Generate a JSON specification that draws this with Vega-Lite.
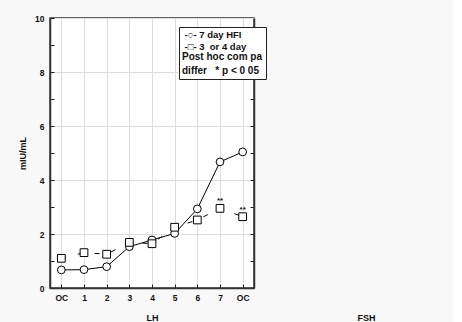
{
  "$schema": "https://vega.github.io/schema/vega-lite/v6.json",
  "background": "#f8f8f8",
  "padding": {"left": 17, "top": 13, "right": 0, "bottom": 0},
  "config": {
    "font": "Liberation Sans",
    "axis": {"labelFont": "Liberation Sans", "labelFontWeight": "bold", "labelFontSize": 8.5, "labelColor": "#111", "titleFont": "Liberation Sans", "titleFontWeight": "bold", "titleFontSize": 9, "titleColor": "#111"},
    "concat": {"spacing": 23}
  },
  "datasets": {
    "hormone": [
      {"day": "OC-pre", "group": "7 day HFI", "value": 0.67, "sig": ""},
      {"day": "1", "group": "7 day HFI", "value": 0.68, "sig": ""},
      {"day": "2", "group": "7 day HFI", "value": 0.79, "sig": ""},
      {"day": "3", "group": "7 day HFI", "value": 1.53, "sig": ""},
      {"day": "4", "group": "7 day HFI", "value": 1.78, "sig": ""},
      {"day": "5", "group": "7 day HFI", "value": 2.02, "sig": ""},
      {"day": "6", "group": "7 day HFI", "value": 2.93, "sig": ""},
      {"day": "7", "group": "7 day HFI", "value": 4.67, "sig": ""},
      {"day": "OC-post", "group": "7 day HFI", "value": 5.04, "sig": ""},
      {"day": "OC-pre", "group": "3 or 4 day", "value": 1.1, "sig": ""},
      {"day": "1", "group": "3 or 4 day", "value": 1.31, "sig": ""},
      {"day": "2", "group": "3 or 4 day", "value": 1.25, "sig": ""},
      {"day": "3", "group": "3 or 4 day", "value": 1.69, "sig": ""},
      {"day": "4", "group": "3 or 4 day", "value": 1.64, "sig": ""},
      {"day": "5", "group": "3 or 4 day", "value": 2.25, "sig": ""},
      {"day": "6", "group": "3 or 4 day", "value": 2.52, "sig": ""},
      {"day": "7", "group": "3 or 4 day", "value": 2.95, "sig": "**"},
      {"day": "OC-post", "group": "3 or 4 day", "value": 2.64, "sig": "**"}
    ]
  },
  "hconcat": [
    {
      "width": 204,
      "height": 270,
      "view": {"fill": "white", "stroke": "#333", "strokeWidth": 1.5},
      "data": {"name": "hormone"},
      "encoding": {
        "x": {
          "field": "day", "type": "ordinal",
          "sort": ["OC-pre", "1", "2", "3", "4", "5", "6", "7", "OC-post"],
          "scale": {"type": "point", "padding": 0.5},
          "axis": {"title": "LH", "labelAngle": 0, "labelExpr": "indexof(datum.label, 'OC') == 0 ? 'OC' : datum.label", "tickSize": -4, "tickColor": "#222", "labelPadding": 9, "titlePadding": 12, "grid": true, "gridColor": "#ddd", "domainColor": "#333", "domainWidth": 1.5}
        }
      },
      "resolve": {"axis": {"y": "independent"}},
      "layer": [
        {
          "transform": [{"filter": "datum.group == '7 day HFI'"}],
          "mark": {"type": "line", "color": "black", "strokeWidth": 1},
          "encoding": {
            "y": {"field": "value", "type": "quantitative", "scale": {"domain": [0, 10], "nice": false},
              "axis": {"orient": "left", "title": "mIU/mL", "values": [0, 1, 2, 3, 4, 5, 6, 7, 8, 9, 10], "labelExpr": "datum.value % 2 == 0 ? datum.label : ''", "tickSize": -4, "tickColor": "#222", "labelPadding": 10, "titlePadding": 7, "grid": true, "gridColor": "#ddd", "gridOpacity": {"condition": {"test": "datum.value % 2 == 0", "value": 1}, "value": 0}, "domainColor": "#333", "domainWidth": 1.5}}
          }
        },
        {
          "transform": [{"filter": "datum.group != '7 day HFI'"}],
          "mark": {"type": "line", "color": "black", "strokeWidth": 1, "strokeDash": [5, 12]},
          "encoding": {
            "y": {"field": "value", "type": "quantitative", "scale": {"domain": [0, 10], "nice": false},
              "axis": {"orient": "right", "title": null, "values": [1, 2, 3, 4, 5, 6, 7, 8, 9], "labels": false, "tickSize": -4, "tickColor": "#222", "grid": false, "domainColor": "#333", "domainWidth": 1.5}}
          }
        },
        {
          "mark": {"type": "point", "filled": false, "fill": "white", "color": "black", "strokeWidth": 1, "opacity": 1},
          "encoding": {
            "y": {"field": "value", "type": "quantitative", "scale": {"domain": [0, 10], "nice": false}, "axis": null},
            "size": {"value": 60},
            "shape": {
              "field": "group", "type": "nominal",
              "scale": {"domain": ["7 day HFI", "3 or 4 day"], "range": ["circle", "square"]},
              "legend": {
                "orient": "none", "legendX": 129, "legendY": 9,
                "title": ["Post hoc com pa", "differ\u00a0\u00a0 * p < 0 05"],
                "titleOrient": "bottom", "titleAnchor": "start", "titleAlign": "left",
                "titleFont": "Liberation Sans", "titleFontSize": 10, "titleFontWeight": "bold", "titleColor": "#111", "titleLineHeight": 13.5, "titlePadding": 0,
                "labelFont": "Liberation Sans", "labelFontSize": 9.5, "labelFontWeight": "bold", "labelColor": "#111",
                "labelExpr": "datum.label == '7 day HFI' ? '-○- 7 day HFI' : '-□- 3\u00a0 or 4 day'",
                "strokeColor": "#222", "fillColor": "white", "padding": 3, "rowPadding": 1.5,
                "symbolSize": 1, "symbolOpacity": 0, "labelOffset": -7
              }
            }
          }
        },
        {
          "transform": [{"filter": "datum.sig != ''"}],
          "mark": {"type": "text", "dy": -7, "fontWeight": "bold", "fontSize": 8, "font": "Liberation Sans", "color": "#111"},
          "encoding": {
            "y": {"field": "value", "type": "quantitative", "scale": {"domain": [0, 10], "nice": false}, "axis": null},
            "text": {"field": "sig"}
          }
        }
      ]
    },
    {
      "width": 174,
      "height": 270,
      "view": {"fill": null, "stroke": null},
      "data": {"name": "hormone"},
      "mark": {"type": "point", "opacity": 0},
      "encoding": {
        "x": {"field": "day", "type": "ordinal", "axis": {"title": "FSH", "labels": false, "ticks": false, "domain": false, "grid": false, "titlePadding": 25}},
        "y": {"field": "value", "type": "quantitative", "scale": {"domain": [0, 10]}, "axis": null}
      }
    }
  ]
}
